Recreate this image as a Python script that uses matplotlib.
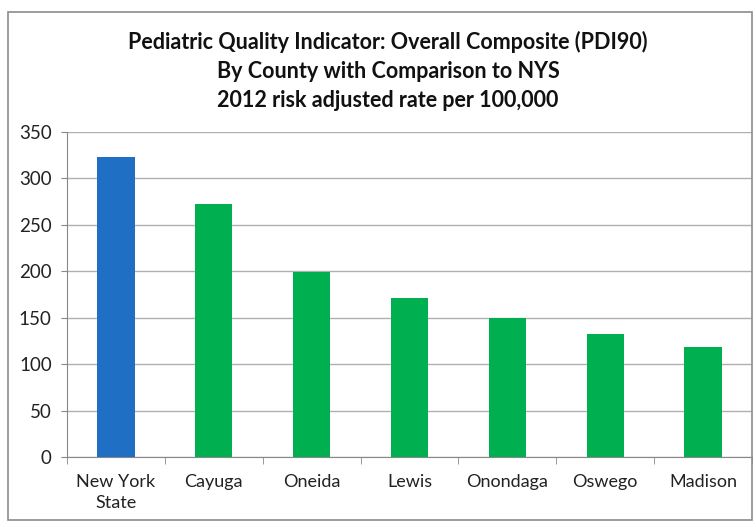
import matplotlib.pyplot as plt
from matplotlib.patches import Rectangle

counties = ["New York\nState", "Cayuga", "Oneida", "Lewis", "Onondaga", "Oswego", "Madison"]
rates = [323, 273, 199, 171, 150, 133, 119]
bar_colors = ["#1F6FC5", "#00B050", "#00B050", "#00B050", "#00B050", "#00B050", "#00B050"]
yticks = [0, 50, 100, 150, 200, 250, 300, 350]

plt.rcParams['font.family'] = ['Lato', 'DejaVu Sans']

fig = plt.figure(figsize=(7.56, 5.25), dpi=100)
# chart frame
fig.patches.append(Rectangle((8 / 756, 5 / 525), 744 / 756, 508 / 525, transform=fig.transFigure,
                             fill=False, edgecolor="#8c8c8c", linewidth=1.2))

ax = fig.add_axes([67 / 756, (525 - 457) / 525, 685 / 756, 325 / 525])
x = range(len(counties))
ax.bar(x, rates, width=0.38, color=bar_colors, zorder=3)

ax.set_xlim(-0.5, len(counties) - 0.5)
ax.set_ylim(0, 350)
ax.set_yticks(yticks)
ax.set_xticks(list(x))
ax.set_xticklabels(counties, fontsize=13, color="#222222", linespacing=1.4)
ax.tick_params(axis="y", labelsize=13.5, colors="#222222", length=4, color="#888888", pad=7)
ax.tick_params(axis="x", length=0, pad=12)
ax.set_xticks([i + 0.5 for i in range(-1, len(counties))], minor=True)
ax.tick_params(axis="x", which="minor", length=5, color="#888888")
ax.grid(axis="y", color="#b0b0b0", linewidth=1, zorder=0)
for side in ["top", "right"]:
    ax.spines[side].set_visible(False)
ax.spines["left"].set_color("#888888")
ax.spines["bottom"].set_color("#888888")

title = ("Pediatric Quality Indicator: Overall Composite (PDI90)\n"
         "By County with Comparison to NYS\n"
         "2012 risk adjusted rate per 100,000")
fig.text(388 / 756, 1 - 71 / 525, title, ha="center", va="center", fontsize=15.5,
         fontweight="bold", linespacing=1.45, color="#111111")

fig.savefig("out.png", dpi=100)
